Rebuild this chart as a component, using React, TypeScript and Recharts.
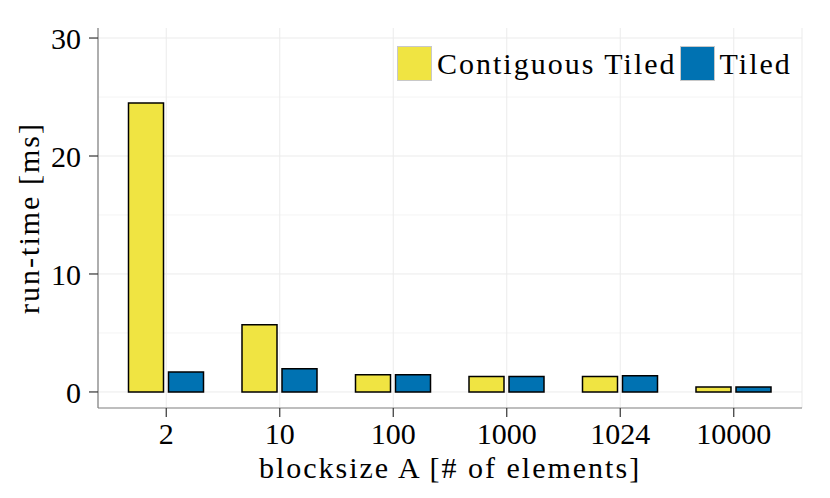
import { BarChart, Bar, XAxis, YAxis, CartesianGrid, Legend } from 'recharts';

const categories = ['2', '10', '100', '1000', '1024', '10000'];
const contiguousTiled = [24.5, 5.7, 1.45, 1.3, 1.3, 0.42];
const tiled = [1.7, 1.97, 1.46, 1.3, 1.38, 0.42];
const yTicks = [0, 10, 20, 30];
const yMinor = [5, 15, 25];

const SERIES = [
  { key: 'contiguous', name: 'Contiguous Tiled', color: '#F0E442' },
  { key: 'tiled', name: 'Tiled', color: '#0072B2' },
];

const FONT = '"Liberation Serif", "DejaVu Serif", serif';
const BORDER = '#7f7f7f';

const chartData = categories.map((c, i) => ({
  name: c,
  contiguous: contiguousTiled[i],
  tiled: tiled[i],
}));

const textStyle = { fontFamily: FONT, fontSize: 30, fill: '#000', letterSpacing: 2 };

function LegendContent({ payload }: any) {
  return (
    <div style={{ display: 'flex', alignItems: 'center', fontFamily: FONT, fontSize: 30, letterSpacing: 2, color: '#000' }}>
      {(payload || []).map((p: any) => (
        <div key={p.value} style={{ display: 'flex', alignItems: 'center', marginRight: 3 }}>
          <span
            style={{
              display: 'inline-block',
              width: 33,
              height: 33,
              background: p.color,
              border: '1px solid #c8c8c8',
              marginRight: 5,
            }}
          />
          <span style={{ lineHeight: '34px' }}>{p.value}</span>
        </div>
      ))}
    </div>
  );
}

export default function App() {
  return (
    <div style={{ position: 'absolute', left: 0, top: 0, background: '#fff' }}>
      <BarChart
        width={830}
        height={498}
        data={chartData}
        margin={{ top: 28, right: 28, bottom: 10, left: 0 }}
        barSize={35}
        barGap={5}
      >
        <CartesianGrid horizontalValues={yMinor} vertical={false} stroke="#f4f4f4" strokeWidth={1} />
        <CartesianGrid horizontalValues={yTicks} stroke="#ebebeb" strokeWidth={1} />
        <XAxis
          dataKey="name"
          padding={{ left: 11.5, right: 11.5 }}
          axisLine={{ stroke: BORDER, strokeWidth: 1.2 }}
          tickSize={9}
          tickLine={{ stroke: '#333', strokeWidth: 1.2 }}
          tickMargin={6}
          height={80}
          tick={{ fontFamily: FONT, fontSize: 30, fill: '#000' }}
          label={{ value: 'blocksize A [# of elements]', position: 'insideBottom', offset: 10, ...textStyle }}
        />
        <XAxis
          xAxisId="top"
          dataKey="name"
          orientation="top"
          height={0}
          tick={false}
          tickLine={false}
          axisLine={{ stroke: BORDER, strokeWidth: 1.2 }}
        />
        <YAxis
          type="number"
          domain={[-1.36, 30.85]}
          ticks={yTicks}
          width={98}
          axisLine={{ stroke: BORDER, strokeWidth: 1.2 }}
          tickSize={9}
          tickLine={{ stroke: '#333', strokeWidth: 1.2 }}
          tickMargin={8}
          allowDataOverflow
          tick={{ fontFamily: FONT, fontSize: 30, fill: '#000' }}
          label={{ value: 'run-time [ms]', angle: -90, position: 'insideLeft', offset: 28, ...textStyle, style: { textAnchor: 'middle' } }}
        />
        <YAxis
          yAxisId="right"
          orientation="right"
          type="number"
          domain={[-1.36, 30.85]}
          width={0}
          tick={false}
          tickLine={false}
          axisLine={{ stroke: BORDER, strokeWidth: 1.2 }}
        />
        <Legend
          layout="horizontal"
          verticalAlign="middle"
          align="center"
          content={<LegendContent />}
          wrapperStyle={{ position: 'absolute', left: 397, top: 46, width: 'auto' }}
        />
        {SERIES.map((s) => (
          <Bar
            key={s.key}
            dataKey={s.key}
            name={s.name}
            fill={s.color}
            stroke="#000"
            strokeWidth={1.5}
            isAnimationActive={false}
          />
        ))}
      </BarChart>
    </div>
  );
}
